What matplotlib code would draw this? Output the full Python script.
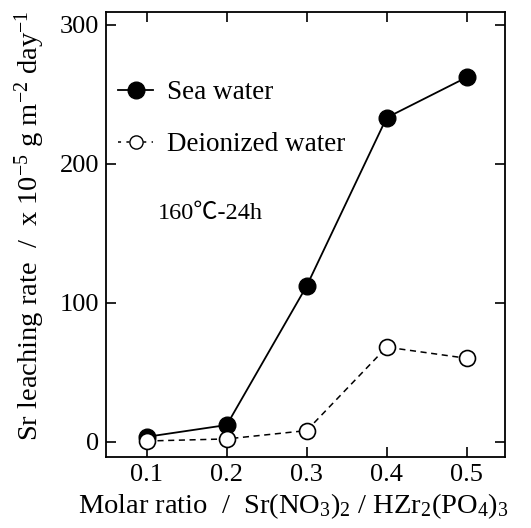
import matplotlib
matplotlib.use("Agg")
import matplotlib.pyplot as plt
from matplotlib.lines import Line2D

plt.rcParams['font.family'] = ['Liberation Serif', 'DejaVu Serif']
plt.rcParams['mathtext.fontset'] = 'custom'
plt.rcParams['mathtext.rm'] = 'Liberation Serif'
plt.rcParams['mathtext.it'] = 'Liberation Serif:italic'

ratio = [0.1, 0.2, 0.3, 0.4, 0.5]
sea_water = [3.5, 12, 112, 233, 262]
deionized = [0.5, 2, 8, 68, 60]
xticks = [0.1, 0.2, 0.3, 0.4, 0.5]
yticks = [0, 100, 200, 300]

fig = plt.figure(figsize=(5.31, 5.28), dpi=100)
ax = fig.add_axes([106/531, 1-457/528, (505-106)/531, (457-12)/528])

ax.plot(ratio, sea_water, '-o', color='black', lw=1.3, ms=12,
        mfc='black', mec='black', zorder=3)
ax.plot(ratio, deionized, '--o', color='black', lw=1.1, ms=11.5,
        mfc='white', mec='black', mew=1.2, dashes=(4, 3), zorder=3)

ax.set_xlim(0.049, 0.548)
ax.set_ylim(-11, 309)
ax.set_xticks(xticks)
ax.set_xticklabels(['0.1', '0.2', '0.3', '0.4', '0.5'])
ax.set_yticks(yticks)
ax.tick_params(direction='in', length=7, width=1.2, labelsize=19,
               top=True, right=True, pad=5)
for s in ax.spines.values():
    s.set_linewidth(1.3)

ax.set_ylabel(r'Sr leaching rate  /  x 10$^{-5}$ g m$^{-2}$ day$^{-1}$',
              fontsize=20.5)
ax.set_xlabel(r'Molar ratio  /  Sr(NO$_3$)$_2$ / HZr$_2$(PO$_4$)$_3$',
              fontsize=20.5)
ax.xaxis.set_label_coords(0.47, -0.078)
ax.yaxis.set_label_coords(-0.148, 0.52)

h1 = Line2D([], [], color='black', ls='-', lw=1.3, marker='o', ms=12,
            mfc='black', mec='black')
h2 = Line2D([], [], color='black', ls='--', lw=1.1, marker='o', ms=9.5,
            mfc='white', mec='black', dashes=(2, 3.5))
leg = ax.legend([h1, h2], ['Sea water', 'Deionized water'], loc='upper left',
                bbox_to_anchor=(-0.01, 0.883), frameon=False, fontsize=19.5,
                handlelength=1.3, handletextpad=0.5, labelspacing=1.0,
                borderaxespad=0.2)

ax.text(0.13, 0.548, '160\u2103-24h', transform=ax.transAxes, fontsize=17.5,
        va='center',
        family=['Liberation Serif', 'Noto Sans CJK JP', 'DejaVu Sans'])

fig.savefig('out.png', dpi=100)
